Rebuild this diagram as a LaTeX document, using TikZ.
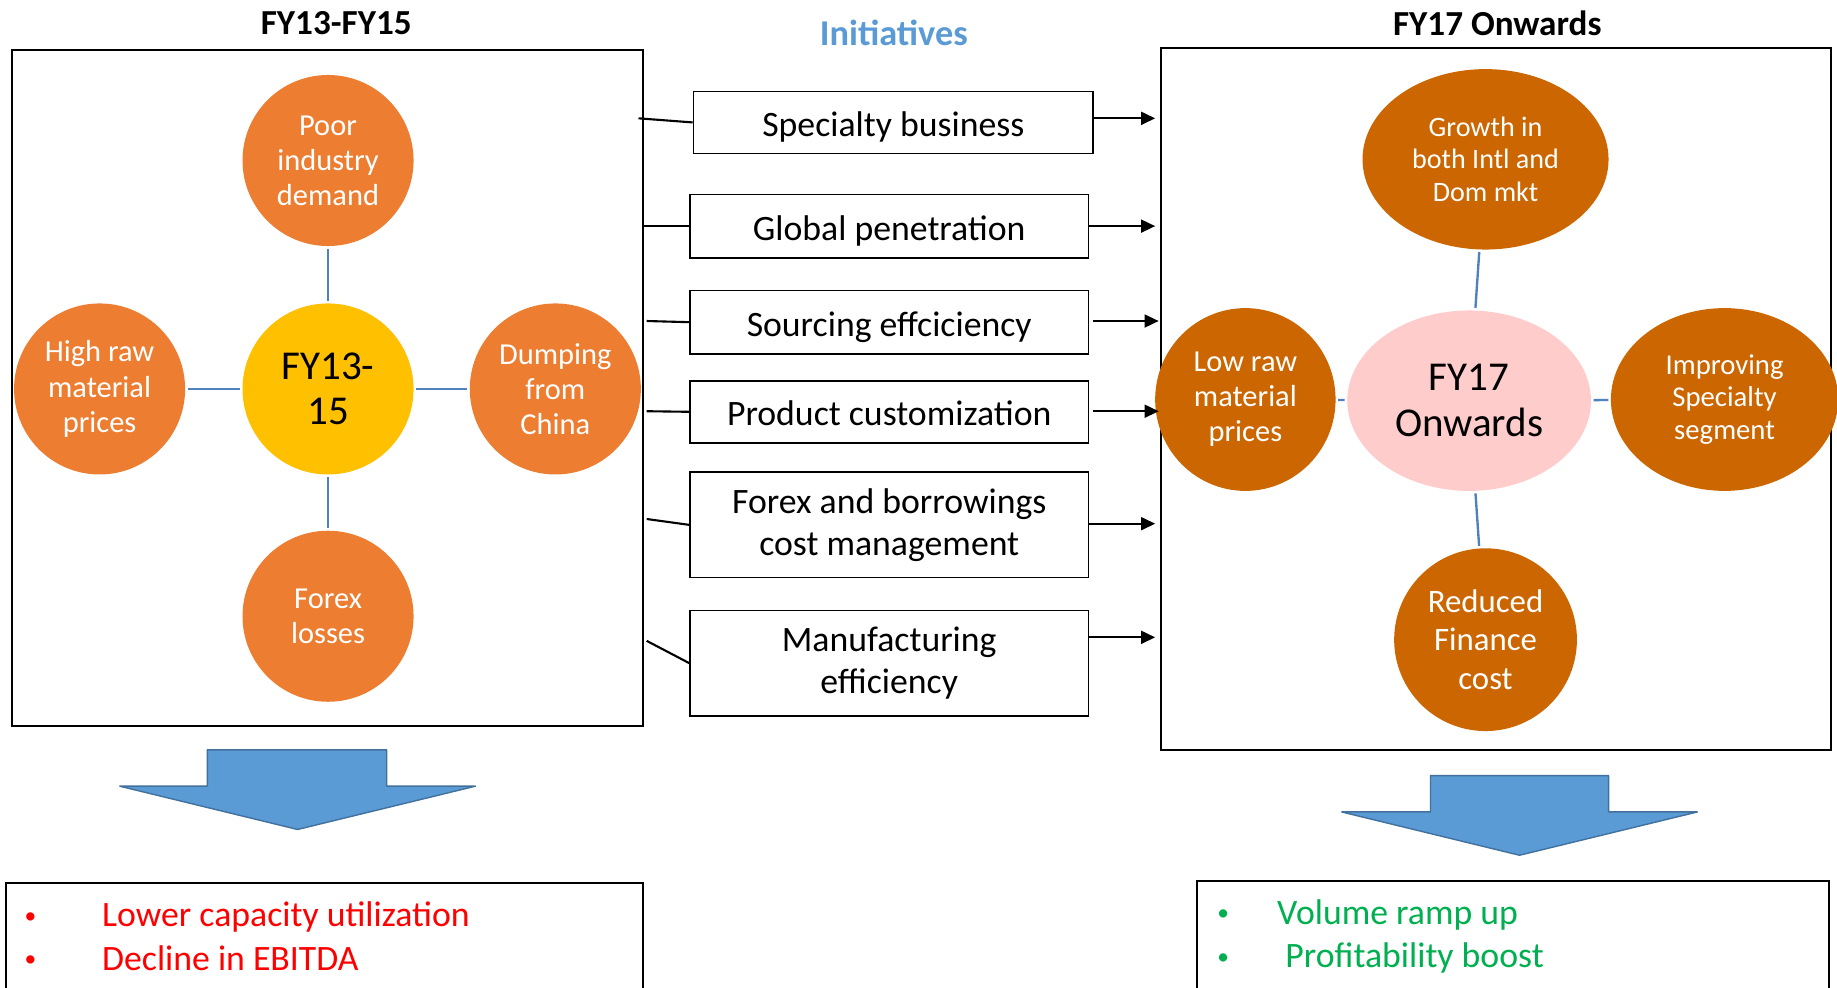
\documentclass[tikz,border=0pt]{standalone}
\usepackage{fontspec}
\setmainfont{Carlito}
\usetikzlibrary{shapes.geometric,arrows.meta}
\definecolor{lorange}{HTML}{ED7D31}
\definecolor{dorange}{HTML}{CC6600}
\definecolor{cyellow}{HTML}{FFC000}
\definecolor{cpink}{HTML}{FFCCCC}
\definecolor{lnblue}{HTML}{4F81BD}
\definecolor{arblue}{HTML}{5B9BD5}
\definecolor{arborder}{HTML}{41719C}
\definecolor{initblue}{HTML}{5B9BD5}
\definecolor{cgreen}{HTML}{00B050}
\definecolor{cred}{HTML}{FF0000}
\begin{document}
\begin{tikzpicture}[x=1pt,y=-1pt,
  lcirc/.style={circle, fill=lorange, text=white, minimum size=146pt, inner sep=0pt, align=center, font=\fontsize{26}{30}\selectfont},
  dell/.style={ellipse, fill=dorange, text=white, inner sep=0pt, align=center},
  initbox/.style={draw, line width=1.5pt, minimum width=340pt, align=center, inner sep=0pt, font=\fontsize{30.5}{36}\selectfont},
  onebox/.style={initbox, text depth=0pt},
  link/.style={lnblue, line width=2pt, shorten >=2pt, shorten <=2pt},
  feed/.style={line width=1.8pt},
  push/.style={line width=1.8pt, -{Triangle[length=12pt,width=11pt]}},
  frame/.style={line width=1.5pt},
  bigarrow/.style={fill=arblue, draw=arborder, line width=1.2pt, line join=bevel},
  title/.style={font=\fontsize{30}{36}\selectfont\bfseries},
  redtxt/.style={text=cred, anchor=base west, inner sep=0pt, font=\fontsize{30.5}{36}\selectfont},
  greentxt/.style={text=cgreen, anchor=base west, inner sep=0pt, font=\fontsize{30.5}{36}\selectfont},
  bul/.style={anchor=base, inner sep=0pt, font=\fontsize{20}{24}\selectfont}
]
\useasboundingbox[fill=white] (0,0) rectangle (1568,843);

% titles
\node[title] (t1) at (287,20) {FY13-FY15};
\node[title] (t2) at (1278,20) {FY17 Onwards};
\node[title, text=initblue, font=\fontsize{31}{36}\selectfont\bfseries] (t3) at (763,28) {Initiatives};

% frames
\draw[frame] (10,43) rectangle (549,620);
\draw[frame] (991,41) rectangle (1563,640);

% left circles
\node[lcirc] (poor) at (280,137) {Poor\\industry\\demand};
\node[lcirc, fill=cyellow, text=black, font=\fontsize{35}{39}\selectfont] (fy13) at (280,332) {FY13-\\15};
\node[lcirc] (high) at (85,332) {High raw\\material\\prices};
\node[lcirc] (dump) at (474,332) {Dumping\\from\\China};
\node[lcirc] (forex) at (280,526) {Forex\\losses};
\draw[link] (poor) -- (fy13);
\draw[link] (high) -- (fy13);
\draw[link] (fy13) -- (dump);
\draw[link] (fy13) -- (forex);

% right circles
\node[dell, minimum width=210pt, minimum height=154pt, font=\fontsize{24}{27.5}\selectfont] (growth) at (1268,136) {Growth in\\both Intl and\\Dom mkt};
\node[dell, fill=cpink, text=black, minimum width=208pt, minimum height=154pt, font=\fontsize{35}{39}\selectfont] (fy17) at (1254,342) {FY17\\Onwards};
\node[dell, minimum width=154pt, minimum height=156pt, font=\fontsize{26}{30}\selectfont] (low) at (1063,341) {Low raw\\material\\prices};
\node[dell, minimum width=194pt, minimum height=156pt, font=\fontsize{24.5}{27.5}\selectfont] (impr) at (1472,341) {Improving\\Specialty\\segment};
\node[dell, minimum width=156pt, minimum height=156pt, font=\fontsize{28}{32.5}\selectfont] (red) at (1268,546) {Reduced\\Finance\\cost};
\draw[link] (growth) -- (fy17);
\draw[link] (low) -- (fy17);
\draw[link] (fy17) -- (impr);
\draw[link] (fy17) -- (red);

% initiative boxes
\node[onebox, minimum width=341pt, minimum height=53pt] (box1) at (762.5,104.5) {\raisebox{-3pt}{Specialty business}};
\node[onebox, minimum height=54pt] (box2) at (759,193) {\raisebox{-3pt}{Global penetration}};
\node[onebox, minimum height=54pt] (box3) at (759,275) {\raisebox{-3pt}{Sourcing effciciency}};
\node[onebox, minimum height=53pt] (box4) at (759,351.5) {\raisebox{-3pt}{Product customization}};
\node[initbox, minimum height=90pt] (box5) at (759,448) {Forex and borrowings\\cost management};
\node[initbox, minimum height=90pt] (box6) at (759,566) {Manufacturing\\efficiency};

% feeds from left frame
\coordinate (f1) at (545,101);
\coordinate (f2) at (549,193);
\coordinate (f3) at (552,274);
\coordinate (f4) at (552,351);
\coordinate (f5) at (552,443);
\coordinate (f6) at (552,547);
\draw[feed] (f1) -- (box1.west);
\draw[feed] (f2) -- (box2.west);
\draw[feed] (f3) -- (box3.west);
\draw[feed] (f4) -- (box4.west);
\draw[feed] (f5) -- (box5.west);
\draw[feed] (f6) -- (box6.west);

% pushes into right frame
\coordinate (p1) at (986,101);
\coordinate (p2) at (986,193);
\coordinate (p3) at (989,274);
\coordinate (p4) at (989,351);
\coordinate (p5) at (986,447);
\coordinate (p6) at (986,544);
\draw[push] (box1.east |- p1) -- (p1);
\draw[push] (box2.east |- p2) -- (p2);
\draw[push] ([xshift=3pt]box3.east |- p3) -- (p3);
\draw[push] ([xshift=3pt]box4.east |- p4) -- (p4);
\draw[push] (box5.east |- p5) -- (p5);
\draw[push] (box6.east |- p6) -- (p6);

% big down arrows
\draw[bigarrow] (177,640) -- (330,640) -- (330,671) -- (406,671) -- (254,708) -- (102,671) -- (177,671) -- cycle;
\draw[bigarrow] (1221,662) -- (1373,662) -- (1373,693) -- (1449,693) -- (1297,730) -- (1145,693) -- (1221,693) -- cycle;

% bottom boxes
\draw[frame] (5,754) rectangle (549,850);
\draw[frame] (1022,752) rectangle (1561,850);
\node[bul, text=cred] (b1) at (26,788) {•};
\node[redtxt] (r1) at (87,791) {Lower capacity utilization};
\node[bul, text=cred] (b2) at (26,825) {•};
\node[redtxt] (r2) at (87,828) {Decline in EBITDA};
\node[bul, text=cgreen] (b3) at (1044,786) {•};
\node[greentxt] (g1) at (1090,789) {Volume ramp up};
\node[bul, text=cgreen] (b4) at (1044,823) {•};
\node[greentxt] (g2) at (1097,826) {Profitability boost};
\end{tikzpicture}
\end{document}
